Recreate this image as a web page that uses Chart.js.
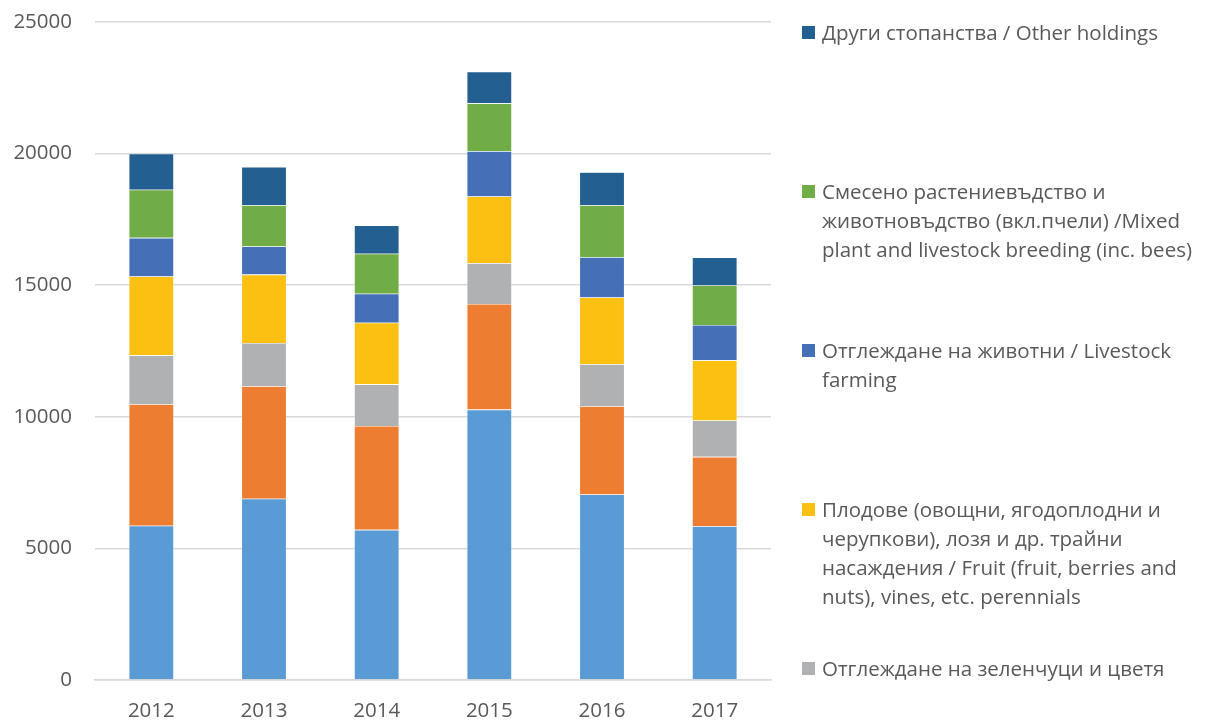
<!DOCTYPE html>
<html>
<head>
<meta charset="utf-8">
<script src="https://cdn.jsdelivr.net/npm/chart.js@4.4.1/dist/chart.umd.min.js"></script>
<style>
    html, body { margin: 0; padding: 0; background: #fff; overflow: hidden; }
    #wrap { position: relative; width: 1205px; height: 720px; overflow: hidden; }
    #chartStopanstva { position: absolute; left: 0; top: 0; }
    #legend { position: absolute; left: 802px; top: 0; width: 403px; height: 720px; }
    .lg-item { position: absolute; left: 0; width: 403px; font-family: "Open Sans", sans-serif; font-size: 20.5px; line-height: 29px; color: #595959; }
    .lg-box { position: absolute; left: 0; top: 8px; width: 13px; height: 13px; }
    .lg-text { margin-left: 20px; width: 385px; }
</style>
</head>
<body>
<div id="wrap">
    <canvas id="chartStopanstva" width="1205" height="720"></canvas>
    <div id="legend"></div>
</div>
<script>
const years = ['2012', '2013', '2014', '2015', '2016', '2017'];

// стойности по серии (отдолу нагоре)
const zarneni = [5860, 6890, 5705, 10275, 7050, 5845];
const polski = [4625, 4275, 3945, 4010, 3350, 2635];
const zelenchuci = [1850, 1640, 1585, 1555, 1605, 1380];
const plodove = [3000, 2600, 2340, 2530, 2530, 2285];
const jivotni = [1465, 1065, 1100, 1725, 1535, 1345];
const smeseno = [1830, 1570, 1520, 1815, 1970, 1500];
const drugi = [1365, 1450, 1080, 1205, 1255, 1065];

const yTicks = [0, 5000, 10000, 15000, 20000, 25000];

const seriesNames = [
    'Зърнени, маслодайни и протеинови култури / Cereals, oilseed and protein crops',
    'Други полски култури / General field cropping',
    'Отглеждане на зеленчуци и цветя',
    'Плодове (овощни, ягодоплодни и черупкови), лозя и др. трайни насаждения / Fruit (fruit, berries and nuts), vines, etc. perennials',
    'Отглеждане на животни / Livestock farming',
    'Смесено растениевъдство и животновъдство (вкл.пчели) /Mixed plant and livestock breeding (inc. bees)',
    'Други стопанства / Other holdings'
];
const seriesColors = ['#5b9bd5', '#ed7d31', '#b0b1b3', '#fcc013', '#4570b8', '#71ad47', '#245f92'];

var chartStopanstva;
const ctx = document.getElementById('chartStopanstva');

function makeDatasets() {
    var values = [zarneni, polski, zelenchuci, plodove, jivotni, smeseno, drugi];
    return values.map(function (v, i) {
        return {
            label: seriesNames[i],
            data: v,
            backgroundColor: seriesColors[i],
            borderColor: 'rgba(255,255,255,0.5)',
            borderWidth: 0.6,
            categoryPercentage: 1,
            barPercentage: 0.4
        };
    });
}

function DrawLegend(chart) {
    var box = document.getElementById('legend');
    box.innerHTML = '';
    var ds = chart.data.datasets.slice().reverse();
    ds.forEach(function (d, i) {
        var item = document.createElement('div');
        item.className = 'lg-item';
        item.style.top = (18 + i * 159) + 'px';
        var sq = document.createElement('div');
        sq.className = 'lg-box';
        sq.style.background = d.backgroundColor;
        var txt = document.createElement('div');
        txt.className = 'lg-text';
        txt.textContent = d.label;
        item.appendChild(sq);
        item.appendChild(txt);
        box.appendChild(item);
    });
}

chartStopanstva = new Chart(ctx, {
    type: 'bar',
    data: {
        labels: years,
        datasets: makeDatasets()
    },
    options: {
        responsive: false,
        animation: false,
        layout: { padding: { top: 22, right: 434, bottom: 0, left: 0 } },
        plugins: {
            legend: { display: false },
            tooltip: { enabled: true }
        },
        scales: {
            x: {
                stacked: true,
                grid: { display: false, drawTicks: false },
                border: { color: '#d9d9d9', width: 1.5 },
                ticks: {
                    color: '#595959',
                    font: { family: 'Open Sans', size: 20.5 },
                    padding: 19
                },
                afterFit: function (scale) { scale.height = 40; }
            },
            y: {
                stacked: true,
                min: 0,
                max: 25000,
                grid: { color: '#d9d9d9', lineWidth: 1.5, drawTicks: false },
                border: { display: false },
                afterBuildTicks: function (scale) {
                    scale.ticks = yTicks.map(function (v) { return { value: v }; });
                },
                ticks: {
                    color: '#595959',
                    font: { family: 'Open Sans', size: 20.5 },
                    padding: 23,
                    callback: function (v) { return String(v); }
                },
                afterFit: function (scale) {
                    scale.width = 95;
                    // tick padding should not push the plot down
                    scale.paddingTop = 0;
                    scale.paddingBottom = 0;
                }
            }
        }
    }
});

DrawLegend(chartStopanstva);
</script>
</body>
</html>
